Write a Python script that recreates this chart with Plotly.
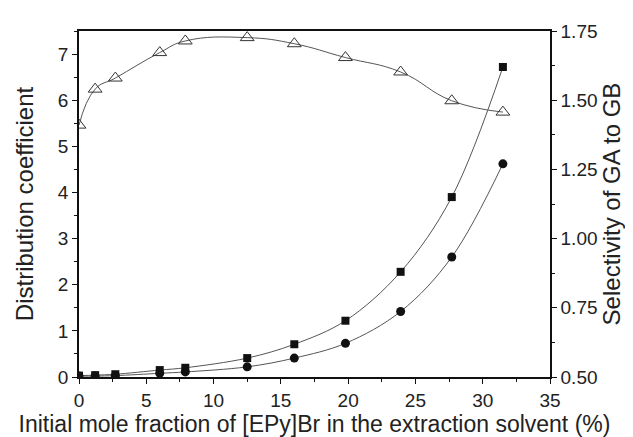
import plotly.graph_objects as go

x_frac = [0, 1.2, 2.7, 6.0, 7.9, 12.5, 16.0, 19.8, 23.9, 27.7, 31.5]
d_square = [0.03, 0.04, 0.06, 0.15, 0.20, 0.41, 0.71, 1.22, 2.28, 3.90, 6.72]
d_circle = [0.02, 0.02, 0.03, 0.08, 0.11, 0.22, 0.41, 0.73, 1.42, 2.60, 4.62]
selectivity = [1.41, 1.54, 1.58, 1.672, 1.714, 1.726, 1.704, 1.654, 1.602, 1.498, 1.457]

x_ticks = [0, 5, 10, 15, 20, 25, 30, 35]
y_ticks = [0, 1, 2, 3, 4, 5, 6, 7]
y2_ticks = [0.50, 0.75, 1.00, 1.25, 1.50, 1.75]

FONT = "Liberation Sans, Arial, sans-serif"
LINE = "#555555"
TXT = "#222222"

fig = go.Figure()
fig.add_trace(go.Scatter(x=x_frac, y=d_square, mode="lines+markers",
                         line=dict(color=LINE, width=1, shape="spline", smoothing=1.0),
                         marker=dict(symbol="square", size=8, color="#111111"),
                         showlegend=False))
fig.add_trace(go.Scatter(x=x_frac, y=d_circle, mode="lines+markers",
                         line=dict(color=LINE, width=1, shape="spline", smoothing=1.0),
                         marker=dict(symbol="circle", size=9, color="#111111"),
                         showlegend=False))
fig.add_trace(go.Scatter(x=x_frac, y=selectivity, mode="lines+markers", yaxis="y2",
                         line=dict(color=LINE, width=1, shape="spline", smoothing=1.3),
                         marker=dict(symbol="triangle-up-open", size=12, color="#333333",
                                     line=dict(width=1)),
                         showlegend=False))

axis_common = dict(showline=True, linecolor="#111111", linewidth=1.5, ticks="outside",
                   ticklen=5, tickwidth=1.3, tickcolor="#111111", showgrid=False, zeroline=False,
                   automargin=False,
                   tickfont=dict(family=FONT, size=19, color=TXT))
minor_common = dict(ticklen=3, tickwidth=1.2, tickcolor="#111111", ticks="outside")

fig.update_layout(
    width=633, height=437,
    margin=dict(l=71, r=91, t=23, b=68),
    paper_bgcolor="white", plot_bgcolor="white",
    xaxis=dict(range=[0, 35], tickvals=x_ticks, mirror=True,
               minor=dict(dtick=2.5, **minor_common),
               title=dict(text="Initial mole fraction of [EPy]Br in the extraction solvent (%)",
                          font=dict(family=FONT, size=23, color=TXT), standoff=5),
               **axis_common),
    yaxis=dict(range=[0, 7.5], tickvals=y_ticks,
               minor=dict(dtick=0.5, **minor_common),
               title=dict(text="Distribution coefficient",
                          font=dict(family=FONT, size=24, color=TXT), standoff=17),
               **axis_common),
    yaxis2=dict(range=[0.5, 1.75], tickvals=y2_ticks, overlaying="y", side="right",
                tickformat=".2f",
                minor=dict(dtick=0.125, **minor_common),
                title=dict(text="Selectivity of GA to GB",
                           font=dict(family=FONT, size=24, color=TXT), standoff=4),
                **axis_common),
)

fig.write_html("out.html")
